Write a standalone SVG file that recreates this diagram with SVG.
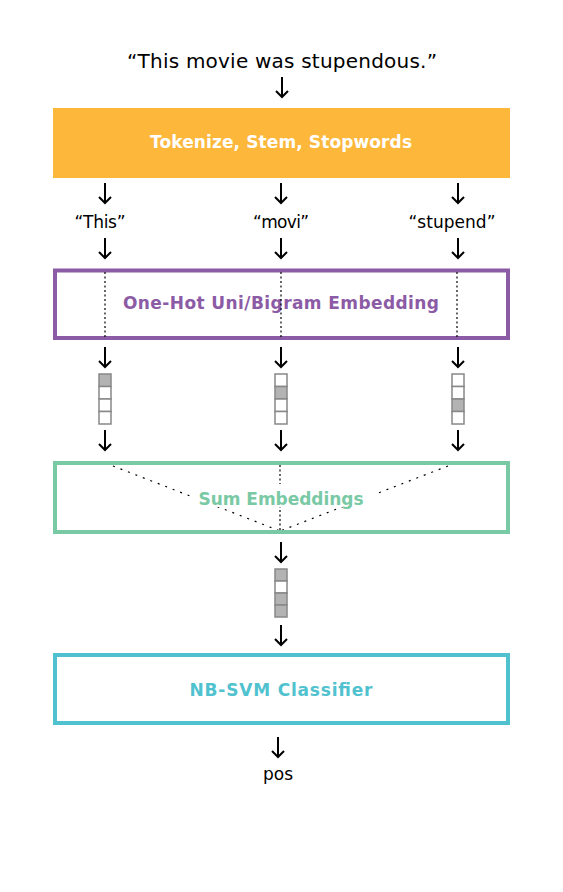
<svg xmlns="http://www.w3.org/2000/svg" width="563" height="892" viewBox="0 0 563 892">
<style>
.t{font-family:"DejaVu Sans","Liberation Sans",sans-serif;fill:#000;text-anchor:middle}
.h{font-family:"DejaVu Sans","Liberation Sans",sans-serif;font-weight:bold;text-anchor:middle;font-size:17px}
.arr{fill:none;stroke:#000;stroke-width:2}
.dot{fill:none;stroke:#000;stroke-width:1.2;stroke-dasharray:2 2.5}
.dia{fill:none;stroke:#000;stroke-width:1.2;stroke-dasharray:2 6}
.c{stroke:#888;stroke-width:1.5;fill:#fff}
.f{fill:#b3b3b3}
</style>
<rect width="563" height="892" fill="#fff"/>
<g id="sentence"><text class="t" x="282" y="68" font-size="20" textLength="310" lengthAdjust="spacing">“This movie was stupendous.”</text></g>
<g id="tokenize"><rect x="53" y="108" width="457" height="70" fill="#fdb73b"/><text class="h" x="281" y="148" fill="#fff" textLength="262" lengthAdjust="spacing">Tokenize, Stem, Stopwords</text></g>
<g id="tok1"><text class="t" x="100" y="228" font-size="17" textLength="51" lengthAdjust="spacing">“This”</text></g>
<g id="tok2"><text class="t" x="281" y="228" font-size="17" textLength="56" lengthAdjust="spacing">“movi”</text></g>
<g id="tok3"><text class="t" x="452" y="228" font-size="17" textLength="87" lengthAdjust="spacing">“stupend”</text></g>
<g id="onehot"><rect x="55" y="270.5" width="453" height="67.5" fill="none" stroke="#8c5ba5" stroke-width="4"/><text class="h" x="281" y="309" fill="#8c5ba5" textLength="316" lengthAdjust="spacing">One-Hot Uni/Bigram Embedding</text></g>
<g id="vec1"><rect class="c f" x="99" y="374" width="12" height="12.5"/><rect class="c" x="99" y="386.5" width="12" height="12.5"/><rect class="c" x="99" y="399" width="12" height="12.5"/><rect class="c" x="99" y="411.5" width="12" height="12.5"/></g>
<g id="vec2"><rect class="c" x="275" y="374" width="12" height="12.5"/><rect class="c f" x="275" y="386.5" width="12" height="12.5"/><rect class="c" x="275" y="399" width="12" height="12.5"/><rect class="c" x="275" y="411.5" width="12" height="12.5"/></g>
<g id="vec3"><rect class="c" x="452" y="374" width="12" height="12.5"/><rect class="c" x="452" y="386.5" width="12" height="12.5"/><rect class="c f" x="452" y="399" width="12" height="12.5"/><rect class="c" x="452" y="411.5" width="12" height="12.5"/></g>
<g id="connectors">
<path class="dot" d="M105 272V337M281 272V337M457 272V337"/>
<path class="dia" d="M113 466L280 531M448 466L280 531"/>
<path class="dot" d="M280 465V531"/>
<path class="arr" d="M282 77V97M276 91L282 97L288 91"/>
<path class="arr" d="M105 183V203M99 197L105 203L111 197M281 183V203M275 197L281 203L287 197M458 183V203M452 197L458 203L464 197"/>
<path class="arr" d="M105 238V258M99 252L105 258L111 252M281 238V258M275 252L281 258L287 252M458 238V258M452 252L458 258L464 252"/>
<path class="arr" d="M105 347V367M99 361L105 367L111 361M281 347V367M275 361L281 367L287 361M458 347V367M452 361L458 367L464 361"/>
<path class="arr" d="M105 430V450M99 444L105 450L111 444M281 430V450M275 444L281 450L287 444M458 430V450M452 444L458 450L464 444"/>
<path class="arr" d="M281 542V562M275 556L281 562L287 556"/>
<path class="arr" d="M281 625V645M275 639L281 645L287 639"/>
<path class="arr" d="M278 737V757M272 751L278 757L284 751"/>
</g>
<g id="sum"><rect x="55" y="463" width="453" height="69" fill="none" stroke="#7ac9a5" stroke-width="4"/><rect x="190" y="484" width="188" height="23" fill="#fff"/><text class="h" x="281" y="505" fill="#7ac9a5" textLength="165" lengthAdjust="spacing">Sum Embeddings</text></g>
<g id="vecsum"><rect class="c f" x="275" y="569" width="12" height="12"/><rect class="c" x="275" y="581" width="12" height="12"/><rect class="c f" x="275" y="593" width="12" height="12"/><rect class="c f" x="275" y="605" width="12" height="12"/></g>
<g id="classifier"><rect x="55" y="655" width="453" height="68" fill="none" stroke="#50c2cf" stroke-width="4"/><text class="h" x="281" y="696" fill="#50c2cf" textLength="183" lengthAdjust="spacing">NB-SVM Classifier</text></g>
<g id="output"><text class="t" x="278" y="780" font-size="17" textLength="30" lengthAdjust="spacing">pos</text></g>
</svg>
